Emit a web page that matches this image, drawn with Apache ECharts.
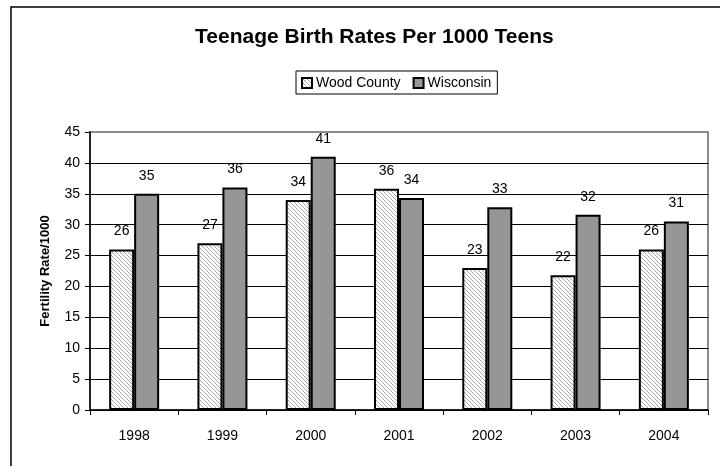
<!DOCTYPE html>
<html>
<head>
<meta charset="utf-8">
<script src="https://cdn.jsdelivr.net/npm/echarts@6/dist/echarts.min.js"></script>
<style>html,body{margin:0;padding:0;background:#fff;}#c{width:720px;height:466px;}</style>
</head>
<body>
<div id="c"></div>
<script>
const categories = ['1998','1999','2000','2001','2002','2003','2004'];
const woodCounty = [26, 27, 34, 35.8, 23, 21.8, 26];
const wisconsin = [35, 36, 41, 34.3, 32.8, 31.6, 30.5];
const seriesNames = ['Wood County', 'Wisconsin'];
const titleText = 'Teenage Birth Rates Per 1000 Teens';
const yAxisName = 'Fertility Rate/1000';

function hatch() {
  const c = document.createElement('canvas');
  c.width = 4; c.height = 4;
  const g = c.getContext('2d');
  g.fillStyle = '#ffffff';
  g.fillRect(0, 0, 4, 4);
  g.strokeStyle = '#a8a8a8';
  g.lineWidth = 1;
  g.beginPath();
  g.moveTo(-1, -1); g.lineTo(5, 5);
  g.moveTo(-1, 3); g.lineTo(1, 5);
  g.moveTo(3, -1); g.lineTo(5, 1);
  g.stroke();
  return { image: c, repeat: 'repeat' };
}
const pat = hatch();
const font = 'Liberation Sans, Arial, sans-serif';

const chart = echarts.init(document.getElementById('c'), null, { renderer: 'canvas' });
chart.setOption({
  animation: false,
  backgroundColor: '#fff',
  textStyle: { fontFamily: font },
  title: {
    text: titleText, left: 190, top: 22,
    textStyle: { fontSize: 21, fontWeight: 'bold', color: '#000', fontFamily: font }
  },
  legend: {
    top: 71, left: 296,
    backgroundColor: '#fff', borderColor: '#000', borderWidth: 1,
    padding: [5, 6, 4, 5],
    itemWidth: 10, itemHeight: 10, itemGap: 12,
    textStyle: { fontSize: 14, color: '#000', fontFamily: font, padding: [0, 0, 0, -1] },
    data: seriesNames.map(n => ({ name: n, icon: 'rect', itemStyle: { borderColor: '#000', borderWidth: 2 } }))
  },
  grid: { left: 90, right: 12, top: 132, bottom: 56, show: true, borderColor: '#8c8c8c', borderWidth: 2, backgroundColor: '#fff' },
  xAxis: {
    type: 'category', data: categories,
    axisLine: { lineStyle: { color: '#000', width: 1.5 } },
    axisTick: { show: true, length: 5, lineStyle: { color: '#000' } },
    axisLabel: { fontSize: 14, color: '#000', margin: 19, fontFamily: font },
    z: 10
  },
  yAxis: {
    type: 'value', min: 0, max: 45, interval: 5,
    name: yAxisName, nameLocation: 'middle', nameGap: 38,
    nameTextStyle: { fontSize: 13, fontWeight: 'bold', color: '#000', fontFamily: font },
    axisLine: { show: true, lineStyle: { color: '#000', width: 1.5 } },
    axisTick: { show: true, length: 5, lineStyle: { color: '#000' } },
    axisLabel: { fontSize: 14, color: '#000', margin: 10, fontFamily: font },
    splitLine: { showMaxLine: false, lineStyle: { color: '#000', width: 1 } }
  },
  series: [
    {
      name: seriesNames[0], type: 'bar', data: woodCounty,
      barWidth: 25, barGap: '0%',
      itemStyle: { color: pat, borderColor: '#000', borderWidth: 2 },
      label: { show: true, position: 'top', distance: 11, fontSize: 14, color: '#000', fontFamily: font,
               formatter: p => Math.round(p.value) }
    },
    {
      name: seriesNames[1], type: 'bar', data: wisconsin,
      barWidth: 25, barGap: '0%',
      itemStyle: { color: '#969696', borderColor: '#000', borderWidth: 2 },
      label: { show: true, position: 'top', distance: 11, fontSize: 14, color: '#000', fontFamily: font,
               formatter: p => Math.round(p.value) }
    }
  ],
  graphic: [
    { type: 'rect', shape: { x: 11, y: 7, width: 800, height: 600 }, style: { fill: 'none', stroke: '#000', lineWidth: 1.5 }, z: 100, silent: true }
  ]
});
</script>
</body>
</html>
